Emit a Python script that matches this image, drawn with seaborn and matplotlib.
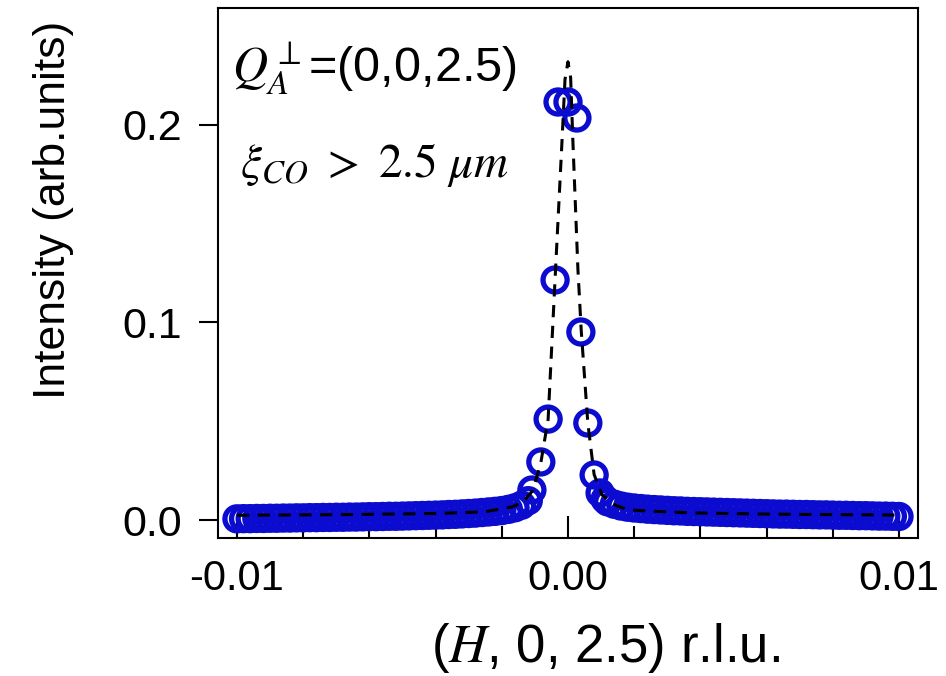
import matplotlib
matplotlib.use('Agg')
import matplotlib.pyplot as plt
import pandas as pd
import seaborn as sns
from matplotlib.ticker import MultipleLocator

# measured points, read off the figure
# left tail
h_left = [-0.0100, -0.0098, -0.0096, -0.0094, -0.0092, -0.0090, -0.0088, -0.0086, -0.0084,
          -0.0082, -0.0080, -0.0078, -0.0076, -0.0074, -0.0072, -0.0070, -0.0068, -0.0066,
          -0.0064, -0.0062, -0.0060, -0.0058, -0.0056, -0.0054, -0.0052, -0.0050, -0.0048,
          -0.0046, -0.0044, -0.0042, -0.0040, -0.0038, -0.0036, -0.0034, -0.0032, -0.0030,
          -0.0028, -0.0026, -0.0024, -0.0022, -0.0020, -0.0018, -0.0016, -0.0014, -0.0012]
i_left = [0.0006, 0.0007, 0.0007, 0.0008, 0.0008, 0.0009, 0.0009, 0.0010, 0.0010,
          0.0011, 0.0011, 0.0012, 0.0012, 0.0013, 0.0013, 0.0014, 0.0014, 0.0015,
          0.0015, 0.0016, 0.0017, 0.0017, 0.0018, 0.0019, 0.0019, 0.0020, 0.0021,
          0.0022, 0.0023, 0.0024, 0.0025, 0.0026, 0.0028, 0.0029, 0.0031, 0.0033,
          0.0035, 0.0038, 0.0041, 0.0044, 0.0048, 0.0054, 0.0062, 0.0075, 0.0098]
# peak region
h_peak = [-0.00109, -0.00082, -0.00060, -0.00039, -0.00030, 0.00000,
          0.00027, 0.00039, 0.00060, 0.00079, 0.00097, 0.00112]
i_peak = [0.0152, 0.0294, 0.0511, 0.1215, 0.2116, 0.2116,
          0.2035, 0.0952, 0.0491, 0.0228, 0.0137, 0.0105]
# right tail
h_right = [0.0012, 0.0014, 0.0016, 0.0018, 0.0020, 0.0022, 0.0024, 0.0026, 0.0028,
           0.0030, 0.0032, 0.0034, 0.0036, 0.0038, 0.0040, 0.0042, 0.0044, 0.0046,
           0.0048, 0.0050, 0.0052, 0.0054, 0.0056, 0.0058, 0.0060, 0.0062, 0.0064,
           0.0066, 0.0068, 0.0070, 0.0072, 0.0074, 0.0076, 0.0078, 0.0080, 0.0082,
           0.0084, 0.0086, 0.0088, 0.0090, 0.0092, 0.0094, 0.0096, 0.0098, 0.0100]
i_right = [0.0092, 0.0080, 0.0071, 0.0065, 0.0061, 0.0058, 0.0055, 0.0053, 0.0051,
           0.0049, 0.0047, 0.0046, 0.0044, 0.0043, 0.0042, 0.0041, 0.0040, 0.0039,
           0.0038, 0.0037, 0.0036, 0.0035, 0.0034, 0.0033, 0.0032, 0.0031, 0.0030,
           0.0030, 0.0029, 0.0028, 0.0028, 0.0027, 0.0026, 0.0026, 0.0025, 0.0024,
           0.0024, 0.0023, 0.0022, 0.0022, 0.0021, 0.0020, 0.0020, 0.0019, 0.0018]

# fit curve (dashed)
fit_h = [-0.0100, -0.0070, -0.0040, -0.0025, -0.0017, -0.00136, -0.00106, -0.00082,
         -0.00060, -0.00036, -0.00018, -0.00009, 0.0, 0.00008, 0.00015, 0.00030,
         0.00040, 0.00060, 0.00079, 0.00103, 0.00142, 0.0018, 0.0025, 0.0038, 0.0060, 0.0100]
fit_i = [0.0024, 0.0027, 0.0033, 0.0042, 0.0066, 0.0090, 0.0150, 0.0290,
         0.0510, 0.1320, 0.1920, 0.2230, 0.2320, 0.2240, 0.1910, 0.1270,
         0.0960, 0.0490, 0.0230, 0.0127, 0.0076, 0.0052, 0.0045, 0.0036, 0.0030, 0.0025]

x_ticks = [-0.01, 0.0, 0.01]
x_ticklabels = ['-0.01', '0.00', '0.01']
y_ticks = [0.0, 0.1, 0.2]
y_ticklabels = ['0.0', '0.1', '0.2']

data = pd.DataFrame({'H': h_left + h_peak + h_right,
                     'I': i_left + i_peak + i_right})
fit = pd.DataFrame({'H': fit_h, 'I': fit_i})

sns.set_style('ticks', rc={'axes.edgecolor': 'black', 'xtick.color': 'black',
                           'ytick.color': 'black', 'text.color': 'black',
                           'axes.labelcolor': 'black'})
plt.rcParams['font.family'] = ['Liberation Sans', 'DejaVu Sans']
plt.rcParams['mathtext.fontset'] = 'stix'

fig = plt.figure(figsize=(9.46, 6.76), dpi=100)
ax = fig.add_axes([0.2304, 0.2041, 0.74, 0.7841])

# open blue circles
sns.scatterplot(data=data, x='H', y='I', marker='o', s=300, facecolor='none',
                edgecolor='#0c0cd0', linewidth=3.8, ax=ax, zorder=2)
# dashed fit on top
sns.lineplot(data=fit, x='H', y='I', color='black', lw=2.2,
             linestyle=(0, (4, 2.8)), ax=ax, zorder=3)

ax.set_xlim(-0.010574, 0.010574)
ax.set_ylim(-0.00911, 0.2592)
ax.set_xticks(x_ticks)
ax.set_xticklabels(x_ticklabels)
ax.xaxis.set_minor_locator(MultipleLocator(0.002))
ax.set_yticks(y_ticks)
ax.set_yticklabels(y_ticklabels)
ax.tick_params(axis='x', which='major', direction='in', length=16, width=1.5,
               pad=15, labelsize=30)
ax.tick_params(axis='x', which='minor', direction='in', length=9, width=1.5)
ax.tick_params(axis='y', which='major', direction='out', length=14, width=1.5,
               pad=12, labelsize=31)
for sp in ax.spines.values():
    sp.set_linewidth(1.5)

ax.set_xlabel('($H$, 0, 2.5) r.l.u.', fontsize=38)
ax.xaxis.set_label_coords(0.554, -0.208)
ax.xaxis.label.set_va('center')
ax.set_ylabel('Intensity (arb.units)', fontsize=32)
ax.yaxis.set_label_coords(-0.235, 0.619)
ax.yaxis.label.set_va('center')

ax.text(0.02, 0.887, r'$Q_A^{\perp}$=(0,0,2.5)', transform=ax.transAxes,
        fontsize=35, va='center', ha='left')
ax.text(0.031, 0.704, r'$\xi_{CO}\ >\ 2.5\ \mu m$', transform=ax.transAxes,
        fontsize=34, va='center', ha='left')

fig.savefig('out.png', dpi=100)
